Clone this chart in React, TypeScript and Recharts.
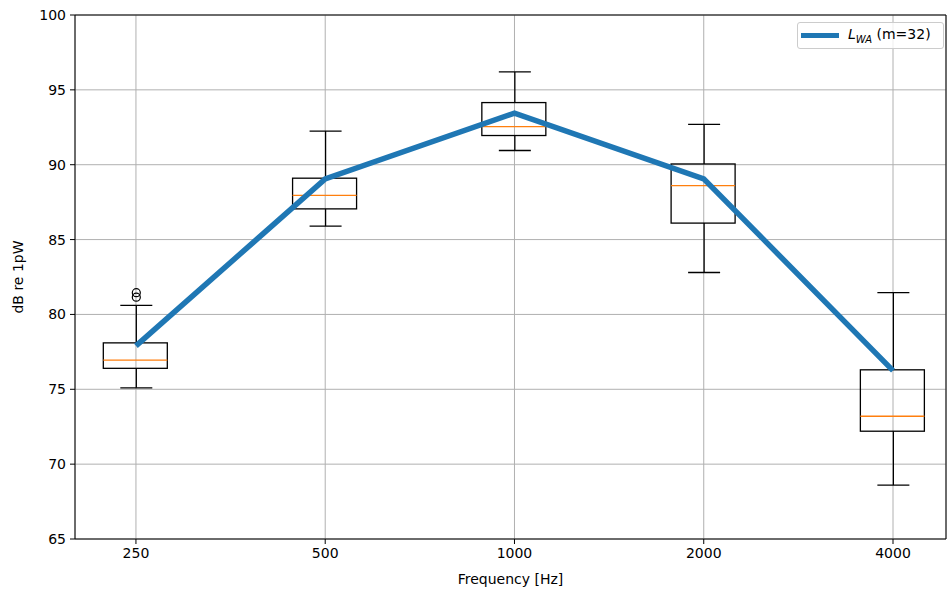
import {
  ComposedChart, Bar, Line, XAxis, YAxis, CartesianGrid, ReferenceLine,
} from 'recharts'

const freqLabels = ['250', '500', '1000', '2000', '4000']
const positions = [1, 2, 3, 4, 5]
const whiskerLow = [75.1, 85.9, 90.95, 82.8, 68.6]
const q1 = [76.4, 87.05, 91.95, 86.1, 72.2]
const median = [76.95, 87.95, 92.55, 88.6, 73.2]
const q3 = [78.1, 89.1, 94.15, 90.05, 76.3]
const whiskerHigh = [80.6, 92.25, 96.2, 92.7, 81.45]
const fliers: number[][] = [[81.15, 81.45], [], [], [], []]
const lwa = [77.9, 89.05, 93.45, 89.05, 76.25]
const yTicks = [65, 70, 75, 80, 85, 90, 95, 100]

const data = positions.map((pos, i) => ({
  pos,
  label: freqLabels[i],
  lo: whiskerLow[i],
  q1: q1[i],
  med: median[i],
  q3: q3[i],
  hi: whiskerHigh[i],
  fliers: fliers[i],
  lwa: lwa[i],
}))

const FONT = '"DejaVu Sans", sans-serif'

function BoxShape(props: any) {
  const { x, y, width, height, payload } = props
  const { q1: b1, q3: b3, med, lo, hi, fliers: out } = payload
  const k = height / (b3 - b1)
  const py = (v: number) => y + (b3 - v) * k
  const cx = x + width / 2
  const cap = width / 4
  return (
    <g>
      <rect x={x - 1} y={y} width={width} height={height} fill="none" stroke="#000" strokeWidth={1.3} />
      <line x1={cx} x2={cx} y1={y} y2={py(hi)} stroke="#000" strokeWidth={1.3} />
      <line x1={cx} x2={cx} y1={y + height} y2={py(lo)} stroke="#000" strokeWidth={1.3} />
      <line x1={cx - cap} x2={cx + cap} y1={py(hi)} y2={py(hi)} stroke="#000" strokeWidth={1.3} />
      <line x1={cx - cap} x2={cx + cap} y1={py(lo)} y2={py(lo)} stroke="#000" strokeWidth={1.3} />
      <line x1={x - 1} x2={x + width - 1} y1={py(med)} y2={py(med)} stroke="#ff7f0e" strokeWidth={1.3} />
      {out.map((v: number, j: number) => (
        <circle key={j} cx={cx} cy={py(v)} r={4} fill="none" stroke="#000" strokeWidth={1.2} />
      ))}
    </g>
  )
}

function YLabel(props: any) {
  const { viewBox } = props
  const cy = viewBox.y + viewBox.height / 2
  return (
    <text x={19} y={cy} transform={`rotate(-90, 19, ${cy})`} textAnchor="middle"
      dominantBaseline="middle" fontSize={14} fontFamily={FONT} fill="#000">
      dB re 1pW
    </text>
  )
}

export default function App() {
  return (
    <div style={{ position: 'absolute', left: 0, top: 0, width: 947, height: 592, background: '#fff' }}>
      <ComposedChart width={947} height={592} data={data}
        margin={{ top: 15, right: 1, left: 0, bottom: 0 }}>
        <CartesianGrid stroke="#b0b0b0" strokeWidth={1} />
        <XAxis
          dataKey="pos"
          type="number"
          domain={[0.678, 5.28]}
          ticks={positions}
          allowDataOverflow
          height={53}
          tickFormatter={(v: number) => freqLabels[v - 1] ?? ''}
          tick={{ fontSize: 14, fontFamily: FONT, fill: '#000' }}
          tickSize={5}
          tickMargin={4}
          axisLine={{ stroke: '#000', strokeWidth: 1 }}
          tickLine={{ stroke: '#000' }}
          label={{ value: 'Frequency [Hz]', position: 'insideBottom', offset: 8,
            style: { fontSize: 14, fontFamily: FONT, fill: '#000' } }}
        />
        <YAxis
          type="number"
          domain={[65, 100]}
          ticks={yTicks}
          width={75}
          tick={{ fontSize: 14, fontFamily: FONT, fill: '#000' }}
          tickSize={5}
          tickMargin={4}
          axisLine={{ stroke: '#000', strokeWidth: 1 }}
          tickLine={{ stroke: '#000' }}
          label={{ content: YLabel }}
        />
        <ReferenceLine y={100} stroke="#000" strokeWidth={1} />
        <ReferenceLine x={5.28} stroke="#000" strokeWidth={1} />
        <Bar dataKey={(d: any) => [d.q1, d.q3]} barSize={64} shape={BoxShape} isAnimationActive={false} />
        <Line dataKey="lwa" stroke="#1f77b4" strokeWidth={5.5} dot={false} isAnimationActive={false} />
      </ComposedChart>
      <div style={{
        position: 'absolute', left: 797, top: 22, width: 147, height: 27,
        border: '1px solid #cccccc', borderRadius: 3, background: 'rgba(255,255,255,0.8)',
        fontFamily: FONT, fontSize: 14, color: '#000', display: 'flex', alignItems: 'center',
        boxSizing: 'border-box',
      }}>
        <div style={{ width: 38, height: 5, background: '#1f77b4', marginLeft: 3, marginRight: 9 }} />
        <span style={{ whiteSpace: 'nowrap' }}>
          <i>L</i><sub style={{ fontSize: 10, fontStyle: 'italic' }}>WA</sub> (m=32)
        </span>
      </div>
    </div>
  )
}
